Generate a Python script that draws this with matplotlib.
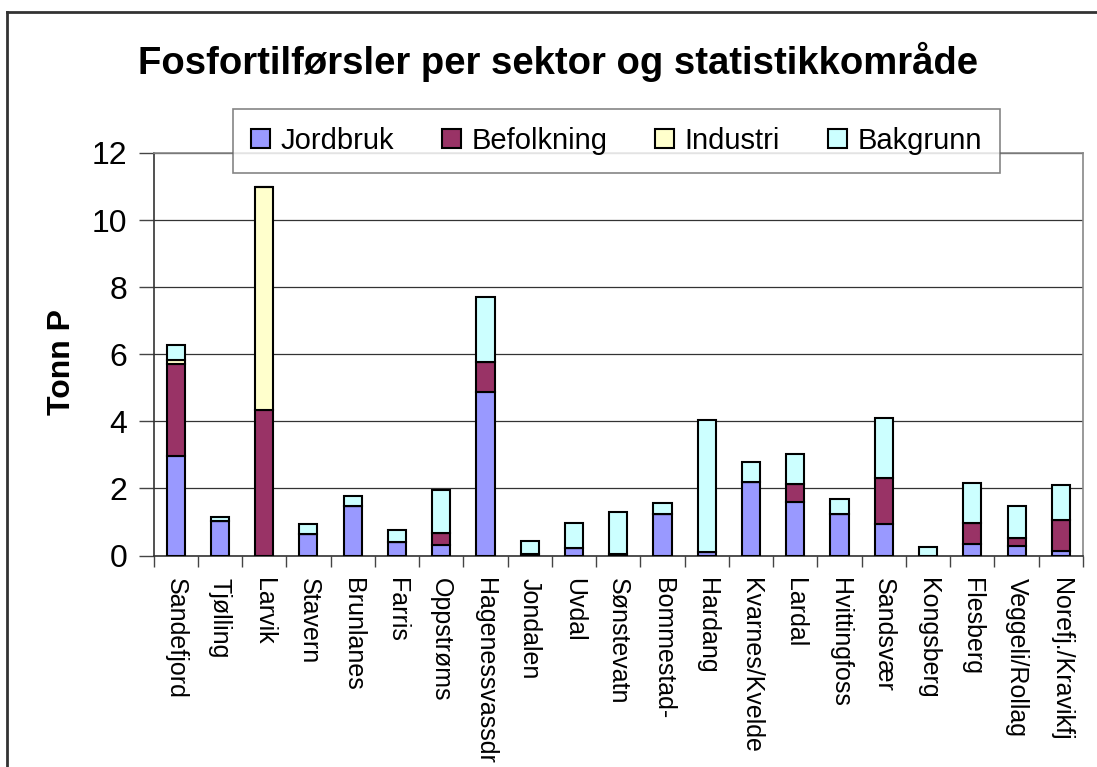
import matplotlib
matplotlib.use("Agg")
import matplotlib.pyplot as plt
from matplotlib.lines import Line2D
import numpy as np

plt.rcParams['font.family'] = ['Liberation Sans', 'DejaVu Sans']

categories = ["Sandefjord", "Tjølling", "Larvik", "Stavern", "Brunlanes", "Farris",
              "Oppstrøms", "Hagenessvassdr", "Jondalen", "Uvdal", "Sønstevatn",
              "Bommestad-", "Hardang", "Kvarnes/Kvelde", "Lardal", "Hvittingfoss",
              "Sandsvær", "Kongsberg", "Flesberg", "Veggeli/Rollag", "Norefj./Kravikfj"]
jordbruk = [2.98, 1.02, 0.00, 0.65, 1.48, 0.40, 0.30, 4.88, 0.05, 0.23, 0.04,
            1.25, 0.10, 2.20, 1.60, 1.24, 0.95, 0.00, 0.35, 0.28, 0.12]
befolkning = [2.74, 0.00, 4.35, 0.00, 0.00, 0.00, 0.36, 0.90, 0.00, 0.00, 0.00,
              0.00, 0.00, 0.00, 0.54, 0.00, 1.37, 0.00, 0.62, 0.25, 0.95]
industri = [0.12, 0.00, 6.65, 0.00, 0.00, 0.00, 0.00, 0.00, 0.00, 0.00, 0.00,
            0.00, 0.00, 0.00, 0.00, 0.00, 0.00, 0.00, 0.00, 0.00, 0.00]
bakgrunn = [0.43, 0.13, 0.00, 0.30, 0.30, 0.37, 1.30, 1.92, 0.39, 0.73, 1.27,
            0.31, 3.95, 0.60, 0.90, 0.43, 1.78, 0.24, 1.18, 0.95, 1.02]
series_names = ["Jordbruk", "Befolkning", "Industri", "Bakgrunn"]
colors = ["#9999FF", "#993366", "#FFFFCC", "#CCFFFF"]
yticks = [0, 2, 4, 6, 8, 10, 12]

W, H = 1097, 767
fig = plt.figure(figsize=(W / 100, H / 100), dpi=100)
fig.patch.set_facecolor('white')

ax = fig.add_axes([153.5 / W, 1 - 555.5 / H, (1083 - 153.5) / W, (555.5 - 153) / H])

x = np.arange(len(categories))
bottom = np.zeros(len(categories))
handles = []
for name, vals, c in zip(series_names, [jordbruk, befolkning, industri, bakgrunn], colors):
    v = np.array(vals)
    b = ax.bar(x, v, 0.41, bottom=bottom, color=c, edgecolor='black',
               linewidth=1.5, label=name, zorder=3)
    handles.append(b)
    bottom = bottom + v

ax.set_xlim(-0.5, len(categories) - 0.5)
ax.set_ylim(0, 12)
ax.set_yticks(yticks)
ax.set_yticklabels([str(t) for t in yticks], fontsize=23)
ax.yaxis.grid(True, color='#333333', linewidth=0.9, zorder=0)
ax.set_axisbelow(True)

ax.set_xticks(x)
ax.set_xticklabels(categories, rotation=270, fontsize=18, ha='center', va='top')
ax.tick_params(axis='x', length=0, pad=16)
ax.set_xticks(np.arange(len(categories) + 1) - 0.5, minor=True)
ax.tick_params(axis='x', which='minor', length=8, width=1, color='#444444', direction='out')
ax.tick_params(axis='y', length=11, width=1, color='#444444', direction='out', pad=8)

for s in ['left', 'bottom']:
    ax.spines[s].set_color('#333333')
    ax.spines[s].set_linewidth(1.2)
for s in ['top', 'right']:
    ax.spines[s].set_color('#888888')
    ax.spines[s].set_linewidth(1.2)

ax.set_ylabel("Tonn P", fontsize=23, fontweight='bold')
ax.yaxis.set_label_coords(-0.082, 0.48)

fig.text(558 / W, 1 - 62 / H, "Fosfortilførsler per sektor og statistikkområde",
         fontsize=27.5, fontweight='bold', ha='center', va='center')

leg = fig.legend(handles=handles, labels=series_names, ncol=4,
                 loc='lower left', mode='expand',
                 bbox_to_anchor=(233 / W, 1 - 173 / H, (1000 - 233) / W, (173 - 110) / H),
                 fontsize=21, frameon=True, fancybox=False, edgecolor='#666666',
                 handlelength=0.65, handleheight=0.65, handletextpad=0.35,
                 borderaxespad=0, borderpad=0.62)
leg.get_frame().set_linewidth(1.2)
for h in leg.legend_handles:
    h.set_linewidth(1.5)

# outer chart border (left and top visible)
fig.add_artist(Line2D([7 / W, 7 / W], [0, 1 - 12 / H], transform=fig.transFigure,
                      color='#333333', linewidth=2))
fig.add_artist(Line2D([7 / W, 1], [1 - 12 / H, 1 - 12 / H], transform=fig.transFigure,
                      color='#333333', linewidth=2))

fig.savefig("out.png", dpi=100)
